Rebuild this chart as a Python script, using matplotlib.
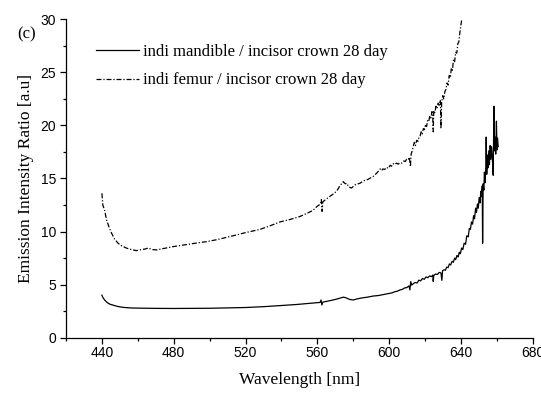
import matplotlib
matplotlib.use("Agg")
import matplotlib.pyplot as plt
from matplotlib.ticker import MultipleLocator

# Emission intensity ratio spectra (wavelength in nm, ratio in a.u.)
mandible_nm = [440, 440.5, 441.5, 443, 444.5, 446.5, 449, 452, 456, 461, 470, 480, 490,
               500, 510, 520, 530, 540, 548, 555, 560, 561.5, 562, 562.5, 563, 566, 570,
               573, 574.5, 576, 578, 580, 582, 585, 588, 591, 594, 597,
               600, 601.5, 603, 604.5, 606, 607.3, 608.5, 609.8, 611, 611.5, 612, 612.5,
               613.5, 614.5, 615.5, 616.5, 617.5, 618.5, 619.5, 620.5, 621.5, 622.5, 623.5,
               624.3, 624.5, 624.8, 625.8, 626.8, 627.8, 628.8, 629.3, 629.7, 630.5, 631.3,
               632, 632.8, 633.5, 634.2, 635, 635.7, 636.4, 637, 637.7, 638.4, 639, 639.6,
               640.3, 641, 641.7, 642.5, 643.2, 644, 644.6, 645.2, 645.8, 646.4, 647,
               647.5, 648.1, 648.6, 649.1, 649.6, 650.1, 650.6, 651, 651.5, 651.8, 652,
               652.3, 652.7, 653, 653.4, 653.8, 654, 654.3, 654.7, 655, 655.4, 655.8, 656.2,
               656.6, 657, 657.4, 657.9, 658.1, 658.3, 658.6, 659, 659.3, 659.7, 660, 660.3,
               660.7]
mandible_ratio = [4.0, 3.8, 3.55, 3.3, 3.15, 3.05, 2.93, 2.85, 2.8, 2.78, 2.76, 2.75, 2.76,
                  2.77, 2.8, 2.84, 2.92, 3.03, 3.12, 3.22, 3.3, 3.32, 3.55, 3.08, 3.35, 3.45,
                  3.6, 3.75, 3.82, 3.75, 3.6, 3.55, 3.65, 3.75, 3.82, 3.92, 3.97, 4.07,
                  4.18, 4.22, 4.32, 4.38, 4.5, 4.55, 4.68, 4.72, 4.88, 4.5, 5.28, 4.95,
                  5.1, 5.2, 5.15, 5.42, 5.35, 5.58, 5.5, 5.72, 5.65, 5.82, 5.75,
                  5.9, 5.3, 5.85, 6.0, 5.95, 6.15, 6.1, 5.4, 6.3, 6.4, 6.35,
                  6.65, 6.6, 6.95, 6.85, 7.2, 7.1, 7.5, 7.35, 7.75, 7.6, 8.05, 7.9,
                  8.45, 8.3, 8.9, 8.8, 9.6, 9.5, 10.3, 10.2, 10.9, 10.7, 11.5,
                  11.2, 12.2, 11.8, 12.6, 12.2, 13.2, 12.7, 13.8, 13.3, 14.3, 8.9,
                  14.5, 13.9, 15.6, 14.6, 16.2, 18.9, 15.4, 17.2, 16.0, 17.6, 16.3, 18.1,
                  16.8, 18.0, 17.0, 15.3, 18.6, 21.8, 17.6, 18.9, 17.3, 20.4, 17.7, 18.8,
                  18.0]

femur_nm = [440, 440.5, 441.5, 442.6, 444, 445.4, 447, 449, 451, 453.8, 456.5, 459.3, 462,
            464, 465.8, 468, 470.5, 475, 479.7, 485, 489, 494, 498.3, 503, 507.5, 511, 515,
            520, 524, 528, 533, 539, 545, 550, 554, 557.6, 560, 561.8, 562.2, 562.6, 563,
            566, 568.5, 570.7, 572.5, 574.4, 575.5, 576.3, 577.5, 579, 581, 583.7, 586, 588,
            591.1, 593, 594, 595, 595.8, 596.5, 597.5, 598.5, 599.5, 600.5, 601.3, 602.2,
            603, 604, 605, 605.9, 607, 608, 609, 609.6, 610.5, 611.2, 611.8, 612.2, 612.8,
            613.3, 614, 614.6, 615.3, 616, 616.6, 617.2, 617.8, 618.4, 619, 619.6, 620.2,
            620.8, 621.4, 622, 622.6, 623.2, 623.8, 624.2, 624.5, 624.8, 625.4, 626, 626.6,
            627.2, 627.8, 628.5, 628.8, 629.2, 629.8, 630.4, 631, 631.6, 632.2, 632.8,
            633.4, 634, 634.6, 635.2, 635.8, 636.4, 637, 637.6, 638.2, 638.8, 639.3, 639.8,
            640, 640.3]
femur_ratio = [13.6, 12.5, 12.0, 11.1, 10.4, 9.84, 9.3, 8.9, 8.65, 8.43, 8.3, 8.2, 8.3,
               8.35, 8.45, 8.3, 8.27, 8.42, 8.58, 8.72, 8.83, 8.95, 9.05, 9.2, 9.37, 9.52,
               9.68, 9.9, 10.05, 10.2, 10.5, 10.9, 11.15, 11.4, 11.7, 12.0, 12.4, 12.6, 13.0,
               11.9, 12.8, 13.2, 13.5, 13.8, 14.3, 14.7, 14.5, 14.55, 14.2, 14.1, 14.4, 14.55,
               14.8, 14.9, 15.2, 15.5, 15.7, 15.9, 15.75, 15.9, 15.85, 16.05, 15.95, 16.25,
               16.15, 16.4, 16.3, 16.45, 16.35, 16.5, 16.45, 16.65, 16.6, 16.8, 16.75, 17.0,
               16.1, 17.3, 17.6, 18.0, 18.4, 18.1, 18.6, 18.5, 18.9, 19.0, 19.4, 19.2, 19.7,
               19.6, 20.1, 19.9, 20.5, 20.4, 20.9, 20.7, 21.3, 21.0, 19.4, 21.4, 21.2, 21.8,
               21.6, 22.1, 21.9, 22.4, 19.7, 22.2, 22.8, 22.5, 23.2, 23.4, 24.0, 23.8, 24.7,
               24.5, 25.4, 25.2, 26.2, 26.0, 26.9, 26.8, 27.7, 27.9, 28.7, 29.3, 29.6, 29.9]

series_labels = ["indi mandible / incisor crown 28 day",
                 "indi femur / incisor crown 28 day"]
panel_tag = "(c)"

serif = ["Liberation Serif", "DejaVu Serif"]
sans = ["Liberation Sans", "DejaVu Sans"]

fig = plt.figure(figsize=(5.41, 3.94), dpi=100)
ax = fig.add_axes([0.122, 0.143, 0.863, 0.808])

ax.plot(mandible_nm, mandible_ratio, color="black", lw=0.9, label=series_labels[0])
ax.plot(femur_nm, femur_ratio, color="black", lw=0.9,
        linestyle=(0, (4, 1.5, 1, 1.5)), label=series_labels[1])

ax.set_xlim(420, 680)
ax.set_ylim(0, 30)
ax.xaxis.set_major_locator(MultipleLocator(40))
ax.xaxis.set_minor_locator(MultipleLocator(20))
ax.yaxis.set_major_locator(MultipleLocator(5))
ax.yaxis.set_minor_locator(MultipleLocator(2.5))
ax.set_xticks([440, 480, 520, 560, 600, 640, 680])

for side in ("top", "right"):
    ax.spines[side].set_visible(False)
for side in ("left", "bottom"):
    ax.spines[side].set_linewidth(0.9)

ax.tick_params(which="major", direction="out", length=4, width=0.9, labelsize=10)
ax.tick_params(axis="x", which="major", pad=2)
ax.tick_params(axis="y", which="major", pad=3)
ax.tick_params(which="minor", direction="out", length=2.5, width=0.9)
for lab in ax.get_xticklabels() + ax.get_yticklabels():
    lab.set_family(sans)

ax.set_xlabel("Wavelength [nm]", family=serif, fontsize=12.5, labelpad=9)
ax.set_ylabel("Emission Intensity Ratio [a.u]", family=serif, fontsize=12.5, labelpad=5)

fig.text(17 / 541, 1 - 34.5 / 394, panel_tag, family=serif, fontsize=12,
         ha="left", va="center")

ax.legend(loc="upper left", bbox_to_anchor=(96 / 541, 1 - 44 / 394),
          bbox_transform=fig.transFigure, frameon=False, borderpad=0,
          borderaxespad=0, handlelength=2.6, handletextpad=0.2, labelspacing=0.75,
          prop={"family": serif, "size": 12})

fig.savefig("out.png", dpi=100)
